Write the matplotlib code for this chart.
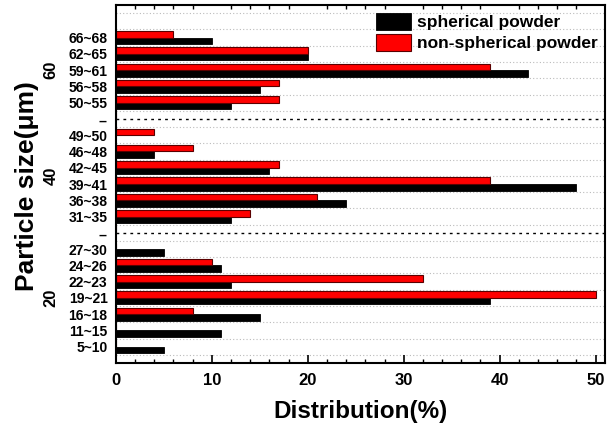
import numpy as np
import matplotlib.pyplot as plt
from matplotlib.ticker import MultipleLocator

plt.rcParams['font.family'] = ['Liberation Sans', 'DejaVu Sans']
plt.rcParams['font.weight'] = 'bold'

# size classes, bottom to top; '--' rows are group separators
labels = ['5~10', '11~15', '16~18', '19~21', '22~23', '24~26', '27~30', '--',
          '31~35', '36~38', '39~41', '42~45', '46~48', '49~50', '--',
          '50~55', '56~58', '59~61', '62~65', '66~68']
spherical = [5, 11, 15, 39, 12, 11, 5, 0,
             12, 24, 48, 16, 4, 0, 0,
             12, 15, 43, 20, 10]
non_spherical = [0, 0, 8, 50, 32, 10, 0, 0,
                 14, 21, 39, 17, 8, 4, 0,
                 17, 17, 39, 20, 6]
groups = ['20', '40', '60']
group_pos = [4, 11.5, 18]

y = np.arange(1, len(labels) + 1)
h = 0.4

fig = plt.figure(figsize=(6.07, 4.23), dpi=100)
ax = fig.add_axes([0.191, 0.142, 0.806, 0.846])

for v in np.arange(0.5, 22, 1):
    ax.axhline(v, color='#bbbbbb', ls=(0, (1, 2)), lw=0.8, zorder=0)
for i, lab in enumerate(labels):
    if lab == '--':
        ax.axhline(y[i], color='black', ls=(0, (2, 3)), lw=1.0, zorder=1)

ax.barh(y - h / 2, spherical, height=h, color='black', edgecolor='black',
        lw=0.6, label='spherical powder', zorder=2)
ax.barh(y + h / 2, non_spherical, height=h, color='#ff0000', edgecolor='#5a0000',
        lw=0.8, label='non-spherical powder', zorder=2)

ax.set_xlim(0, 51)
ax.set_ylim(0, 22)
ax.set_yticks(y)
ax.set_yticklabels(labels, fontsize=10, fontweight='bold')
ax.tick_params(axis='y', length=0, pad=6)
ax.xaxis.set_major_locator(MultipleLocator(10))
ax.xaxis.set_minor_locator(MultipleLocator(2))
ax.tick_params(axis='x', which='major', direction='in', length=6, width=1.2,
               labelsize=12, top=False, pad=7)
ax.tick_params(axis='x', which='minor', direction='in', length=3, width=1.0, top=True)
for s in ax.spines.values():
    s.set_linewidth(1.5)

for g, p in zip(groups, group_pos):
    ax.text(-0.133, p, g, transform=ax.get_yaxis_transform(), rotation=90,
            ha='center', va='center', fontsize=12, fontweight='bold')

ax.set_xlabel('Distribution(%)', fontsize=17.5, fontweight='bold', labelpad=9)
fig.text(0.045, 0.56, 'Particle size(μm)', rotation=90, ha='center', va='center',
         fontsize=19, fontweight='bold')

ax.legend(loc='upper right', frameon=False, handlelength=2.0,
          handleheight=1.15, borderaxespad=0.05, labelspacing=0.2, handletextpad=0.35,
          prop={'weight': 'bold', 'size': 12.5})

fig.savefig('out.png', dpi=100)
